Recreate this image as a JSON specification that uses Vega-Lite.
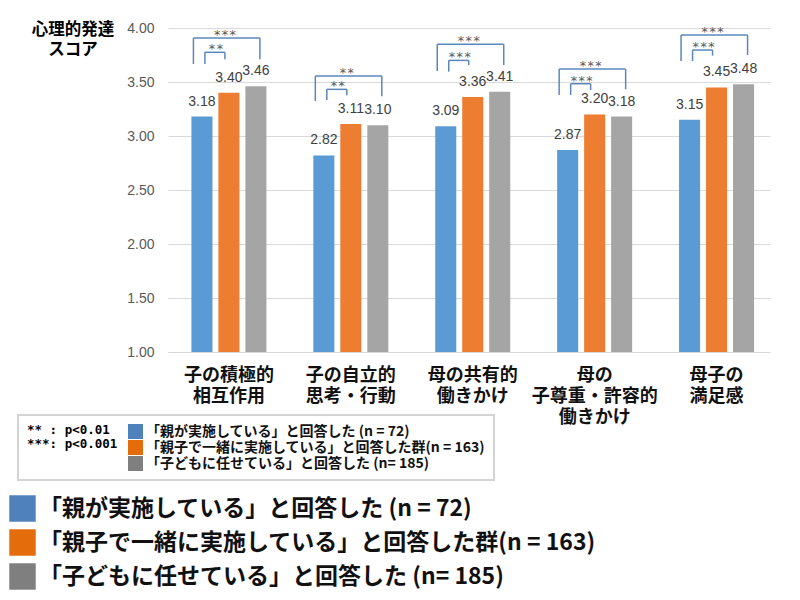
{
  "$schema": "https://vega.github.io/schema/vega-lite/v6.json",
  "width": 602,
  "height": 324,
  "autosize": {"type": "none"},
  "padding": {"left": 168, "top": 28, "right": 30, "bottom": 248},
  "background": "white",
  "title": {
    "text": ["心理的発達", "スコア"],
    "anchor": "start",
    "frame": "group",
    "orient": "top",
    "align": "center",
    "baseline": "top",
    "offset": 0,
    "dx": -95,
    "dy": 37,
    "font": "Noto Sans CJK JP",
    "fontSize": 16.5,
    "fontWeight": "bold",
    "color": "black",
    "lineHeight": 19.5
  },
  "config": {"view": {"stroke": null}, "font": "Noto Sans CJK JP"},
  "datasets": {
    "scores": [
      {"cat": "子の積極的 相互作用", "grp": "「親が実施している」と回答した (n = 72)", "score": 3.18},
      {"cat": "子の積極的 相互作用", "grp": "「親子で一緒に実施している」と回答した群(n = 163)", "score": 3.40},
      {"cat": "子の積極的 相互作用", "grp": "「子どもに任せている」と回答した (n= 185)", "score": 3.46},
      {"cat": "子の自立的 思考・行動", "grp": "「親が実施している」と回答した (n = 72)", "score": 2.82},
      {"cat": "子の自立的 思考・行動", "grp": "「親子で一緒に実施している」と回答した群(n = 163)", "score": 3.11},
      {"cat": "子の自立的 思考・行動", "grp": "「子どもに任せている」と回答した (n= 185)", "score": 3.10},
      {"cat": "母の共有的 働きかけ", "grp": "「親が実施している」と回答した (n = 72)", "score": 3.09},
      {"cat": "母の共有的 働きかけ", "grp": "「親子で一緒に実施している」と回答した群(n = 163)", "score": 3.36},
      {"cat": "母の共有的 働きかけ", "grp": "「子どもに任せている」と回答した (n= 185)", "score": 3.41},
      {"cat": "母の 子尊重・許容的 働きかけ", "grp": "「親が実施している」と回答した (n = 72)", "score": 2.87},
      {"cat": "母の 子尊重・許容的 働きかけ", "grp": "「親子で一緒に実施している」と回答した群(n = 163)", "score": 3.20},
      {"cat": "母の 子尊重・許容的 働きかけ", "grp": "「子どもに任せている」と回答した (n= 185)", "score": 3.18},
      {"cat": "母子の 満足感", "grp": "「親が実施している」と回答した (n = 72)", "score": 3.15},
      {"cat": "母子の 満足感", "grp": "「親子で一緒に実施している」と回答した群(n = 163)", "score": 3.45},
      {"cat": "母子の 満足感", "grp": "「子どもに任せている」と回答した (n= 185)", "score": 3.48}
    ],
    "brackets": [
      {"cat": "子の積極的 相互作用", "kind": "outer", "stars": "***", "top": 3.907, "lb": 3.667, "rb": 3.71},
      {"cat": "子の積極的 相互作用", "kind": "inner", "stars": "**", "top": 3.775, "lb": 3.667, "rb": 3.71},
      {"cat": "子の自立的 思考・行動", "kind": "outer", "stars": "**", "top": 3.556, "lb": 3.324, "rb": 3.367},
      {"cat": "子の自立的 思考・行動", "kind": "inner", "stars": "**", "top": 3.432, "lb": 3.333, "rb": 3.377},
      {"cat": "母の共有的 働きかけ", "kind": "outer", "stars": "***", "top": 3.849, "lb": 3.602, "rb": 3.657},
      {"cat": "母の共有的 働きかけ", "kind": "inner", "stars": "***", "top": 3.70, "lb": 3.596, "rb": 3.657},
      {"cat": "母の 子尊重・許容的 働きかけ", "kind": "outer", "stars": "***", "top": 3.62, "lb": 3.38, "rb": 3.432},
      {"cat": "母の 子尊重・許容的 働きかけ", "kind": "inner", "stars": "***", "top": 3.484, "lb": 3.38, "rb": 3.426},
      {"cat": "母子の 満足感", "kind": "outer", "stars": "***", "top": 3.935, "lb": 3.694, "rb": 3.75},
      {"cat": "母子の 満足感", "kind": "inner", "stars": "***", "top": 3.796, "lb": 3.694, "rb": 3.744}
    ]
  },
  "encoding": {
    "x": {
      "field": "cat",
      "type": "nominal",
      "sort": ["子の積極的 相互作用", "子の自立的 思考・行動", "母の共有的 働きかけ", "母の 子尊重・許容的 働きかけ", "母子の 満足感"],
      "scale": {"paddingInner": 0.336, "paddingOuter": 0.137, "align": 0.612},
      "axis": {
        "title": null,
        "labelExpr": "split(datum.label, ' ')",
        "labelAngle": 0,
        "labelFont": "Noto Sans CJK JP",
        "labelFontSize": 18,
        "labelFontWeight": "bold",
        "labelColor": "#111111",
        "labelLineHeight": 21,
        "labelBaseline": "top",
        "labelPadding": 14,
        "labelLimit": 300,
        "ticks": false,
        "tickSize": 0,
        "domainColor": "#d9d9d9"
      }
    },
    "y": {
      "field": "score",
      "type": "quantitative",
      "scale": {"domain": [1, 4], "nice": false, "zero": false},
      "axis": {
        "title": null,
        "values": [1, 1.5, 2, 2.5, 3, 3.5, 4],
        "format": ".2f",
        "labelFont": "Liberation Sans",
        "labelFontSize": 14,
        "labelColor": "#595959",
        "labelPadding": 14,
        "ticks": false,
        "tickSize": 0,
        "domain": false,
        "grid": true,
        "gridColor": "#d9d9d9"
      }
    }
  },
  "layer": [
    {
      "data": {"name": "scores"},
      "encoding": {
        "xOffset": {
          "field": "grp",
          "type": "nominal",
          "scale": {
            "domain": ["「親が実施している」と回答した (n = 72)", "「親子で一緒に実施している」と回答した群(n = 163)", "「子どもに任せている」と回答した (n= 185)"],
            "paddingInner": 0.22,
            "paddingOuter": 0.11
          }
        }
      },
      "layer": [
        {
          "mark": {"type": "bar"},
          "encoding": {
            "y2": {"datum": 1},
            "color": {
              "field": "grp",
              "type": "nominal",
              "scale": {
                "domain": ["「親が実施している」と回答した (n = 72)", "「親子で一緒に実施している」と回答した群(n = 163)", "「子どもに任せている」と回答した (n= 185)"],
                "range": ["#5b9bd5", "#ed7d31", "#a5a5a5"]
              },
              "legend": null
            }
          }
        },
        {
          "mark": {"type": "text", "font": "Liberation Sans", "fontSize": 14, "color": "#404040", "baseline": "alphabetic", "dy": -11},
          "encoding": {"text": {"field": "score", "type": "quantitative", "format": ".2f"}}
        },
        {
          "mark": {"type": "bar", "opacity": 0},
          "encoding": {
            "y2": {"datum": 1},
            "color": {
              "field": "grp",
              "type": "nominal",
              "scale": {
                "domain": ["「親が実施している」と回答した (n = 72)", "「親子で一緒に実施している」と回答した群(n = 163)", "「子どもに任せている」と回答した (n= 185)"],
                "range": ["#4f81bd", "#e46c0a", "#7f7f7f"]
              },
              "legend": {
                "orient": "none",
                "legendX": -150,
                "legendY": 387,
                "title": ["** : p<0.01", "***: p<0.001"],
                "titleOrient": "left",
                "titleAnchor": "start",
                "titleAlign": "left",
                "titleBaseline": "top",
                "titleFont": "DejaVu Sans Mono",
                "titleFontSize": 12.5,
                "titleFontWeight": "bold",
                "titleLineHeight": 14,
                "titleColor": "black",
                "titlePadding": 10,
                "symbolType": "square",
                "symbolSize": 225,
                "symbolStrokeWidth": 0,
                "symbolOpacity": 1,
                "labelFont": "Noto Sans CJK JP",
                "labelFontSize": 14,
                "labelFontWeight": "bold",
                "labelColor": "#111111",
                "labelOffset": 3,
                "labelLimit": 800,
                "rowPadding": 1,
                "padding": 9,
                "strokeColor": "#d4d4d4",
                "fillColor": "white",
                "encode": {"legend": {"update": {"strokeWidth": {"value": 2}}}}
              }
            }
          }
        },
        {
          "mark": {"type": "bar", "opacity": 0},
          "encoding": {
            "y2": {"datum": 1},
            "color": {
              "field": "grp",
              "type": "nominal",
              "scale": {
                "domain": ["「親が実施している」と回答した (n = 72)", "「親子で一緒に実施している」と回答した群(n = 163)", "「子どもに任せている」と回答した (n= 185)"],
                "range": ["#4f81bd", "#e46c0a", "#7f7f7f"]
              },
              "legend": {
                "orient": "none",
                "legendX": -159,
                "legendY": 467,
                "title": null,
                "symbolType": "square",
                "symbolSize": 700,
                "symbolStrokeWidth": 0,
                "symbolOpacity": 1,
                "labelFont": "Noto Sans CJK JP",
                "labelFontSize": 23,
                "labelFontWeight": "bold",
                "labelColor": "#111111",
                "labelOffset": 3,
                "labelLimit": 800,
                "rowPadding": 7,
                "padding": 0
              }
            }
          }
        }
      ],
      "resolve": {"scale": {"color": "independent"}, "legend": {"color": "independent"}}
    },
    {
      "data": {"name": "brackets"},
      "transform": [{"filter": "datum.kind == 'outer'"}],
      "layer": [
        {
          "mark": {"type": "rule", "color": "#5b87bb", "strokeWidth": 1.5, "xOffset": -35.5},
          "encoding": {"y": {"field": "lb", "type": "quantitative"}, "y2": {"field": "top"}}
        },
        {
          "mark": {"type": "rule", "color": "#5b87bb", "strokeWidth": 1.5, "xOffset": 31},
          "encoding": {"y": {"field": "rb", "type": "quantitative"}, "y2": {"field": "top"}}
        },
        {
          "mark": {"type": "rule", "color": "#5b87bb", "strokeWidth": 1.5, "xOffset": -35.5, "x2Offset": 31},
          "encoding": {"x2": {"field": "cat"}, "y": {"field": "top", "type": "quantitative"}}
        },
        {
          "mark": {"type": "text", "font": "DejaVu Sans Mono", "fontSize": 13, "color": "#595959", "baseline": "alphabetic", "dx": -4, "dy": 1},
          "encoding": {"y": {"field": "top", "type": "quantitative"}, "text": {"field": "stars"}}
        }
      ]
    },
    {
      "data": {"name": "brackets"},
      "transform": [{"filter": "datum.kind == 'inner'"}],
      "layer": [
        {
          "mark": {"type": "rule", "color": "#5b87bb", "strokeWidth": 1.5, "xOffset": -24},
          "encoding": {"y": {"field": "lb", "type": "quantitative"}, "y2": {"field": "top"}}
        },
        {
          "mark": {"type": "rule", "color": "#5b87bb", "strokeWidth": 1.5, "xOffset": -4},
          "encoding": {"y": {"field": "rb", "type": "quantitative"}, "y2": {"field": "top"}}
        },
        {
          "mark": {"type": "rule", "color": "#5b87bb", "strokeWidth": 1.5, "xOffset": -24, "x2Offset": -4},
          "encoding": {"x2": {"field": "cat"}, "y": {"field": "top", "type": "quantitative"}}
        },
        {
          "mark": {"type": "text", "font": "DejaVu Sans Mono", "fontSize": 13, "color": "#595959", "baseline": "alphabetic", "dx": -13, "dy": 1},
          "encoding": {"y": {"field": "top", "type": "quantitative"}, "text": {"field": "stars"}}
        }
      ]
    }
  ],
  "resolve": {"scale": {"color": "independent"}, "legend": {"color": "independent"}}
}
